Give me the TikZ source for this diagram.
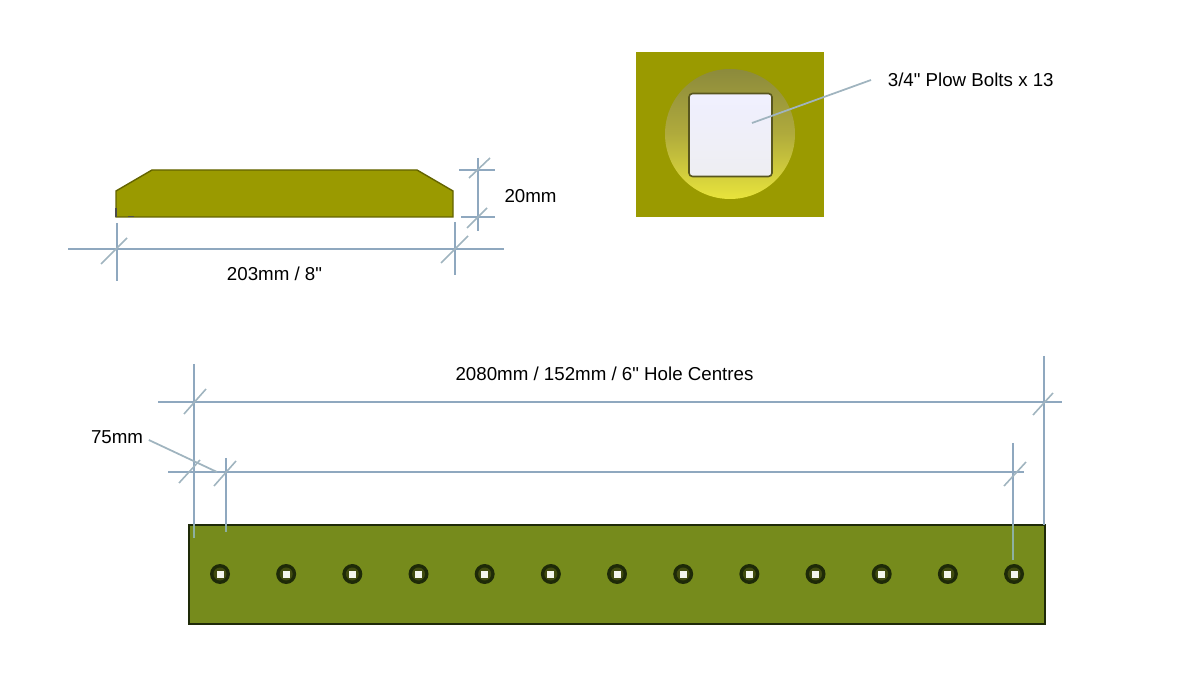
\documentclass[tikz,border=0pt]{standalone}
\usepackage{fontspec}
\setmainfont[Ligatures=TeXOff]{Liberation Sans}
\definecolor{dimblue}{HTML}{8FA8BF}
\definecolor{tickgrey}{HTML}{A0B4BF}
\definecolor{dimfaded}{HTML}{8DB0A0}
\definecolor{profileolive}{HTML}{9A9A00}
\definecolor{recesstop}{HTML}{8C8A3C}
\definecolor{recessmid}{HTML}{B0AB3C}
\definecolor{recessbot}{HTML}{E8E43C}
\definecolor{bardark}{HTML}{1E2A08}
\definecolor{barolive}{HTML}{768B1C}
\tikzset{
  dimline/.style={draw=dimblue,line width=0.75pt},
  dimtick/.style={draw=tickgrey,line width=0.9pt},
  dimfade/.style={draw=dimfaded,line width=0.85pt},
  leader/.style={draw=tickgrey,line width=1pt},
  dimtext/.style={font=\fontsize{10.65pt}{12pt}\selectfont,text=black,inner sep=2pt},
  holeouter/.style={circle,fill=bardark,minimum size=20*0.02cm,inner sep=0pt},
  holeinner/.style={circle,fill=black!45!barolive,minimum size=13*0.02cm,inner sep=0pt},
  holesquare/.style={rectangle,fill=white!92!barolive,minimum size=7*0.02cm,inner sep=0pt}
}
\begin{document}
\begin{tikzpicture}[x=0.02cm,y=-0.02cm]
    \useasboundingbox (0,0) rectangle (1197,675);

    % side profile
    \draw[fill=profileolive,draw=black!35!profileolive,line width=0.8pt] (116,217) -- (116,191) -- (152,170)
    -- (417,170) -- (453,191) -- (453,217) -- cycle;
    \draw[black!70,line width=0.7pt] (116,208) -- (116,217) (128,216.5) -- (134,216.5);

    \draw[dimline] (68,249) -- (504,249);
    \draw[dimline] (117,223) -- (117,281);
    \draw[dimtick] (101,264) -- (127,238);
    \draw[dimline] (455,222) -- (455,275);
    \draw[dimtick] (441,263) -- (468,236);

    \draw[dimline] (478,158) -- (478,231);
    \draw[dimline] (459,170) -- (495,170);
    \draw[dimline] (461,217) -- (495,217);
    \draw[dimtick] (469,178) -- (490,158);
    \draw[dimtick] (467,228) -- (487,208);

    \node[dimtext] (WidthLabel) at (274.5,273.5) {203mm / 8"};
    \node[dimtext] (DepthLabel) at (530.5,196) {20mm};

    % bolt hole detail
    \fill[profileolive] (636,52) rectangle (824,217);
    \node[circle,minimum size=130*0.02cm,inner sep=0pt,top color=recesstop,
    bottom color=recessbot,middle color=recessmid] (BoltRecess) at (730,134) {};
    \node[rectangle,rounded corners=2pt,draw=black!50!recessmid,line width=0.9pt,minimum size=83*0.02cm,
    inner sep=0pt,top color=white!94!blue,bottom color=blue!10!gray!12!white] (BoltHead) at (730.5,135) {};
    \node[dimtext,anchor=west] (BoltLabel) at (884,80) {3/4" Plow Bolts x 13};
    \coordinate (BoltTip) at (752,123);
    \draw[leader] (871,80) -- (BoltTip);

    % plate front view
    \draw[fill=barolive,draw=bardark,line width=1pt] (189,525) rectangle (1045,624);
    \foreach \x in {0,...,12} {
      \node[holeouter] (HoleOuter\x) at (\x * 66.17 + 220,574) {};
      \node[holeinner] (HoleInner\x) at (HoleOuter\x) {};
      \node[holesquare] (HoleSquare\x) at (HoleOuter\x) {};
    }

    \draw[dimline] (158,402) -- (1062,402);
    \draw[dimline] (168,472) -- (1024,472);
    \draw[dimline] (194,364) -- (194,525);
    \draw[dimline] (1044,356) -- (1044,525);
    \draw[dimline] (226,458) -- (226,525);
    \draw[dimline] (1013,443) -- (1013,525);
    \draw[dimfade] (194,525) -- (194,538);
    \draw[dimfade] (226,525) -- (226,532);
    \draw[dimfade] (1013,525) -- (1013,560);
    \draw[dimtick] (184,414) -- (206,389);
    \draw[dimtick] (179,483) -- (200,460);
    \draw[dimtick] (214,486) -- (236,461);
    \draw[dimtick] (1004,486) -- (1026,462);
    \draw[dimtick] (1033,415) -- (1053,393);

    \node[dimtext] (CentresLabel) at (604.5,374) {2080mm / 152mm / 6" Hole Centres};
    \node[dimtext] (EndLabel) at (117,437) {75mm};
    \coordinate (EndTip) at (217,472);
    \draw[leader] (EndLabel.east) ++(2,3) -- (EndTip);
\end{tikzpicture}
\end{document}
